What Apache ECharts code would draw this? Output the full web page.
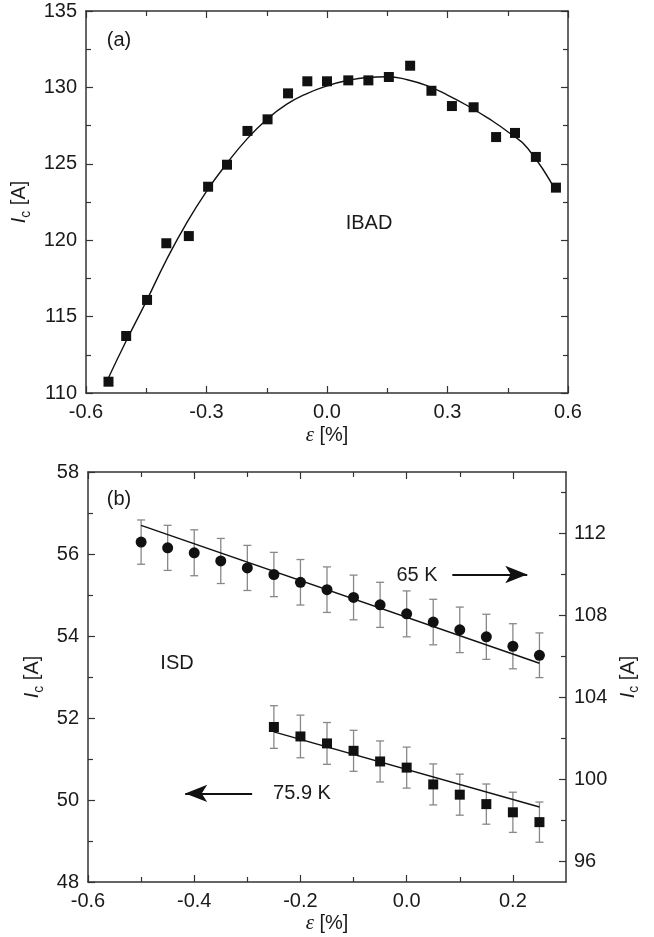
<!DOCTYPE html>
<html>
<head>
<meta charset="utf-8">
<script src="https://cdn.jsdelivr.net/npm/echarts@6/dist/echarts.min.js"></script>
<style>
  html, body { margin: 0; padding: 0; background: #fff; }
  #main { width: 654px; height: 937px; }
</style>
</head>
<body>
<div id="main"></div>
<script>
// (a) IBAD
var strainA = [-0.544, -0.5, -0.448, -0.4, -0.344, -0.296, -0.249, -0.198, -0.148, -0.097, -0.049, 0.0,
    0.053, 0.103, 0.154, 0.207, 0.26, 0.311, 0.365, 0.421, 0.468, 0.52, 0.57];
var icA = [110.74, 113.73, 116.09, 119.8, 120.27, 123.5, 124.94, 127.15, 127.91, 129.61, 130.4, 130.4,
    130.46, 130.46, 130.68, 131.42, 129.78, 128.78, 128.7, 126.75, 127.02, 125.45, 123.44];
var fitStrainA = [-0.544, -0.5, -0.45, -0.4, -0.35, -0.3, -0.25, -0.2, -0.15, -0.1, -0.05, 0,
    0.05, 0.1, 0.15, 0.2, 0.25, 0.3, 0.35, 0.4, 0.45, 0.5, 0.57];
var fitIcA = [111.0, 113.4, 116.0, 118.7, 121.1, 123.2, 125.0, 126.6, 127.9, 128.9, 129.6, 130.1,
    130.45, 130.65, 130.7, 130.5, 130.1, 129.5, 128.8, 128.0, 127.1, 126.0, 123.2];

// (b) ISD
var strain65 = [-0.5, -0.45, -0.4, -0.35, -0.3, -0.25, -0.2, -0.15, -0.1, -0.05, 0, 0.05, 0.1, 0.15, 0.2, 0.25];
var ic65 = [111.58, 111.3, 111.06, 110.66, 110.32, 110.0, 109.62, 109.26, 108.88, 108.52, 108.08, 107.68,
    107.3, 106.96, 106.5, 106.06];
var err65 = [1.08, 1.1, 1.12, 1.1, 1.1, 1.08, 1.11, 1.11, 1.09, 1.1, 1.12, 1.11, 1.11, 1.1, 1.1, 1.09];
var fitStrain65 = [-0.5, 0.25];
var fitIc65 = [112.4, 105.67];

var strain76 = [-0.25, -0.2, -0.15, -0.1, -0.05, 0, 0.05, 0.1, 0.15, 0.2, 0.25];
var ic76 = [51.78, 51.55, 51.38, 51.2, 50.94, 50.79, 50.38, 50.13, 49.9, 49.7, 49.46];
var err76 = [0.52, 0.52, 0.51, 0.5, 0.5, 0.5, 0.5, 0.5, 0.49, 0.49, 0.49];
var fitStrain76 = [-0.25, 0.25];
var fitIc76 = [51.66, 49.83];

var xMajorB = [-0.6, -0.4, -0.2, 0, 0.2];
var xMinorB = [-0.5, -0.3, -0.1, 0.1];
var yRightMajor = [96, 100, 104, 108, 112];
var yRightMinor = [98, 102, 106, 110, 114];

var FONT = 'Liberation Sans';
var INK = '#1a1a1a';
var AXIS = '#333';

function zip(a, b) {
    var out = [];
    for (var i = 0; i < a.length; i++) out.push([a[i], b[i]]);
    return out;
}
function errData(xs, ys, es) {
    var out = [];
    for (var i = 0; i < xs.length; i++) out.push([xs[i], ys[i] - es[i], ys[i] + es[i]]);
    return out;
}
function errorBar(params, api) {
    var top = api.coord([api.value(0), api.value(2)]);
    var bot = api.coord([api.value(0), api.value(1)]);
    var hw = 4;
    var st = { stroke: '#888', lineWidth: 1.3 };
    return {
        type: 'group',
        children: [
            { type: 'line', shape: { x1: top[0], y1: top[1], x2: bot[0], y2: bot[1] }, style: st },
            { type: 'line', shape: { x1: top[0] - hw, y1: top[1], x2: top[0] + hw, y2: top[1] }, style: st },
            { type: 'line', shape: { x1: bot[0] - hw, y1: bot[1], x2: bot[0] + hw, y2: bot[1] }, style: st }
        ]
    };
}

var label = { color: INK, fontFamily: FONT, fontSize: 20 };
var icName = '{i|I}{s|c}{t| [A]}';
var icRich = {
    i: { fontStyle: 'italic', fontSize: 20, fontFamily: FONT, color: INK, lineHeight: 26, verticalAlign: 'middle' },
    s: { fontSize: 14, fontFamily: FONT, color: INK, lineHeight: 14, verticalAlign: 'bottom' },
    t: { fontSize: 20, fontFamily: FONT, color: INK, lineHeight: 26, verticalAlign: 'middle' }
};
var epsName = '{e|ε}{t| [%]}';
var epsRich = {
    e: { fontStyle: 'italic', fontSize: 21, fontFamily: 'Liberation Serif', color: INK, lineHeight: 24 },
    t: { fontSize: 20, fontFamily: FONT, color: INK, lineHeight: 24 }
};

function mirror(extra) {
    var base = {
        axisLine: { show: true, onZero: false, lineStyle: { color: AXIS, width: 1.5 } },
        axisLabel: { show: false },
        splitLine: { show: false },
        axisTick: { inside: true, length: 7, lineStyle: { color: AXIS, width: 1.2 } }
    };
    return Object.assign(base, extra);
}

var myChart = echarts.init(document.getElementById('main'));

var option = {
    backgroundColor: '#fff',
    animation: false,
    grid: [
        { left: 86, top: 11, width: 482, height: 382 },
        { left: 88, top: 472, width: 478, height: 410 }
    ],
    xAxis: [
        // (a) bottom
        {
            gridIndex: 0, type: 'value', position: 'bottom', min: -0.6, max: 0.6, interval: 0.3,
            axisLine: { onZero: false, lineStyle: { color: AXIS, width: 1.5 } },
            axisTick: { inside: true, length: 7, lineStyle: { color: AXIS, width: 1.2 } },
            minorTick: { show: true, splitNumber: 2, length: 5, lineStyle: { color: AXIS, width: 1.2 } },
            axisLabel: Object.assign({ margin: 9, formatter: function (v) { return v.toFixed(1); } }, label),
            splitLine: { show: false },
            name: epsName, nameLocation: 'middle', nameGap: 30,
            nameTextStyle: { rich: epsRich }
        },
        // (a) top mirror
        mirror({
            gridIndex: 0, type: 'value', position: 'top', min: -0.6, max: 0.6, interval: 0.3,
            minorTick: { show: true, splitNumber: 2, length: 5, lineStyle: { color: AXIS, width: 1.2 } }
        }),
        // (b) bottom major
        {
            gridIndex: 1, type: 'value', position: 'bottom', min: -0.6, max: 0.3,
            axisLine: { onZero: false, lineStyle: { color: AXIS, width: 1.5 } },
            axisTick: { inside: true, length: 7, customValues: xMajorB, lineStyle: { color: AXIS, width: 1.2 } },
            axisLabel: Object.assign({ margin: 9, customValues: xMajorB, formatter: function (v) { return v.toFixed(1); } }, label),
            splitLine: { show: false },
            name: epsName, nameLocation: 'middle', nameGap: 29,
            nameTextStyle: { rich: epsRich }
        },
        // (b) bottom minor
        mirror({
            gridIndex: 1, type: 'value', position: 'bottom', min: -0.6, max: 0.3,
            axisLine: { show: false, onZero: false },
            axisTick: { inside: true, length: 5, customValues: xMinorB, lineStyle: { color: AXIS, width: 1.2 } }
        }),
        // (b) top major
        mirror({
            gridIndex: 1, type: 'value', position: 'top', min: -0.6, max: 0.3,
            axisTick: { inside: true, length: 7, customValues: xMajorB, lineStyle: { color: AXIS, width: 1.2 } }
        }),
        // (b) top minor
        mirror({
            gridIndex: 1, type: 'value', position: 'top', min: -0.6, max: 0.3,
            axisLine: { show: false, onZero: false },
            axisTick: { inside: true, length: 5, customValues: xMinorB, lineStyle: { color: AXIS, width: 1.2 } }
        })
    ],
    yAxis: [
        // (a) left
        {
            gridIndex: 0, type: 'value', position: 'left', min: 110, max: 135, interval: 5,
            axisLine: { show: true, onZero: false, lineStyle: { color: AXIS, width: 1.5 } },
            axisTick: { show: true, inside: true, length: 7, lineStyle: { color: AXIS, width: 1.2 } },
            minorTick: { show: true, splitNumber: 2, length: 5, lineStyle: { color: AXIS, width: 1.2 } },
            axisLabel: Object.assign({ margin: 9 }, label),
            splitLine: { show: false },
            name: icName, nameLocation: 'middle', nameGap: 42,
            nameTextStyle: { rich: icRich }
        },
        // (a) right mirror
        mirror({
            gridIndex: 0, type: 'value', position: 'right', min: 110, max: 135, interval: 5,
            minorTick: { show: true, splitNumber: 2, length: 5, lineStyle: { color: AXIS, width: 1.2 } }
        }),
        // (b) left, 75.9 K
        {
            gridIndex: 1, type: 'value', position: 'left', min: 48, max: 58, interval: 2,
            axisLine: { show: true, onZero: false, lineStyle: { color: AXIS, width: 1.5 } },
            axisTick: { show: true, inside: true, length: 7, lineStyle: { color: AXIS, width: 1.2 } },
            minorTick: { show: true, splitNumber: 2, length: 5, lineStyle: { color: AXIS, width: 1.2 } },
            axisLabel: Object.assign({ margin: 9 }, label),
            splitLine: { show: false },
            name: icName, nameLocation: 'middle', nameGap: 39,
            nameTextStyle: { rich: icRich }
        },
        // (b) right, 65 K
        {
            gridIndex: 1, type: 'value', position: 'right', min: 95, max: 115,
            axisLine: { show: true, onZero: false, lineStyle: { color: AXIS, width: 1.5 } },
            axisTick: { show: true, inside: true, length: 7, customValues: yRightMajor, lineStyle: { color: AXIS, width: 1.2 } },
            axisLabel: Object.assign({ margin: 8, customValues: yRightMajor }, label),
            splitLine: { show: false },
            name: icName, nameLocation: 'middle', nameGap: 49,
            nameTextStyle: { rich: icRich }
        },
        // (b) right minor
        mirror({
            gridIndex: 1, type: 'value', position: 'right', min: 95, max: 115,
            axisLine: { show: false, onZero: false },
            axisTick: { show: true, inside: true, length: 5, customValues: yRightMinor, lineStyle: { color: AXIS, width: 1.2 } }
        })
    ],
    series: [
        {
            name: 'IBAD fit', type: 'line', xAxisIndex: 0, yAxisIndex: 0,
            data: zip(fitStrainA, fitIcA), smooth: 0.5, showSymbol: false,
            lineStyle: { color: '#111', width: 1.4 }, z: 2
        },
        {
            name: 'IBAD', type: 'scatter', xAxisIndex: 0, yAxisIndex: 0,
            data: zip(strainA, icA), symbol: 'rect', symbolSize: 10,
            itemStyle: { color: '#111', opacity: 1 }, z: 3
        },
        {
            name: '65 K err', type: 'custom', xAxisIndex: 2, yAxisIndex: 3,
            data: errData(strain65, ic65, err65), renderItem: errorBar,
            encode: { x: 0, y: [1, 2] }, z: 1
        },
        {
            name: '65 K fit', type: 'line', xAxisIndex: 2, yAxisIndex: 3,
            data: zip(fitStrain65, fitIc65), showSymbol: false,
            lineStyle: { color: '#111', width: 1.4 }, z: 2,
            markLine: {
                silent: true, symbol: ['none', 'arrow'], symbolSize: [13, 22],
                label: { show: false },
                lineStyle: { color: '#111', width: 1.8, type: 'solid' },
                data: [[{ coord: [0.086, 110.0] }, { coord: [0.227, 110.0] }]]
            }
        },
        {
            name: '65 K', type: 'scatter', xAxisIndex: 2, yAxisIndex: 3,
            data: zip(strain65, ic65), symbol: 'circle', symbolSize: 11,
            itemStyle: { color: '#111', opacity: 1 }, z: 3
        },
        {
            name: '75.9 K err', type: 'custom', xAxisIndex: 2, yAxisIndex: 2,
            data: errData(strain76, ic76, err76), renderItem: errorBar,
            encode: { x: 0, y: [1, 2] }, z: 1
        },
        {
            name: '75.9 K fit', type: 'line', xAxisIndex: 2, yAxisIndex: 2,
            data: zip(fitStrain76, fitIc76), showSymbol: false,
            lineStyle: { color: '#111', width: 1.4 }, z: 2,
            markLine: {
                silent: true, symbol: ['none', 'arrow'], symbolSize: [13, 22],
                label: { show: false },
                lineStyle: { color: '#111', width: 1.8, type: 'solid' },
                data: [[{ coord: [-0.291, 50.16] }, { coord: [-0.417, 50.16] }]]
            }
        },
        {
            name: '75.9 K', type: 'scatter', xAxisIndex: 2, yAxisIndex: 2,
            data: zip(strain76, ic76), symbol: 'rect', symbolSize: 10,
            itemStyle: { color: '#111', opacity: 1 }, z: 3
        }
    ],
    graphic: [
        { type: 'text', x: 119, y: 40, style: { text: '(a)', font: '20px ' + FONT, fill: INK, align: 'center', verticalAlign: 'middle' } },
        { type: 'text', x: 369, y: 223, style: { text: 'IBAD', font: '20px ' + FONT, fill: INK, align: 'center', verticalAlign: 'middle' } },
        { type: 'text', x: 119, y: 499, style: { text: '(b)', font: '20px ' + FONT, fill: INK, align: 'center', verticalAlign: 'middle' } },
        { type: 'text', x: 177, y: 663, style: { text: 'ISD', font: '20px ' + FONT, fill: INK, align: 'center', verticalAlign: 'middle' } },
        { type: 'text', x: 417, y: 575, style: { text: '65 K', font: '20px ' + FONT, fill: INK, align: 'center', verticalAlign: 'middle' } },
        { type: 'text', x: 302, y: 793, style: { text: '75.9 K', font: '20px ' + FONT, fill: INK, align: 'center', verticalAlign: 'middle' } }
    ]
};

myChart.setOption(option);
</script>
</body>
</html>
